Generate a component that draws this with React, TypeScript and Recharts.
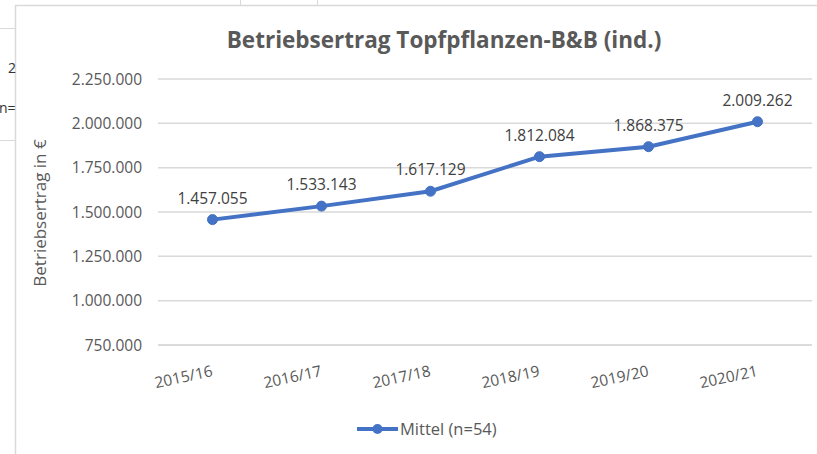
import React from 'react';
import { LineChart, Line, XAxis, YAxis, CartesianGrid, LabelList } from 'recharts';

const years = ['2015/16', '2016/17', '2017/18', '2018/19', '2019/20', '2020/21'];
const mittel = [1457055, 1533143, 1617129, 1812084, 1868375, 2009262];
const yTicks = [750000, 1000000, 1250000, 1500000, 1750000, 2000000, 2250000];
const seriesName = 'Mittel (n=54)';
const title = 'Betriebsertrag Topfpflanzen-B&B (ind.)';
const yLabel = 'Betriebsertrag in €';

const data = years.map((y, i) => ({ year: y, mittel: mittel[i] }));

const FONT = "'Open Sans', sans-serif";
const GRAY = '#595959';
const BLUE = '#4472C4';
const GRID = '#d9d9d9';

const fmt = (v: any) => String(v).replace(/\B(?=(\d{3})+(?!\d))/g, '.');

const XTick = (props: any) => {
  const { x, y, payload } = props;
  return (
    <g transform={`translate(${x + 1},${y + 31})`}>
      <text x={0} y={0} textAnchor="end" transform="rotate(-12)" fill={GRAY} fontSize={15.5} fontFamily={FONT}>
        {payload.value}
      </text>
    </g>
  );
};

export default function App() {
  return (
    <div style={{ position: 'absolute', left: 0, top: 0, width: 817, height: 454, background: '#fff', overflow: 'hidden' }}>
      <svg width={817} height={454} style={{ position: 'absolute', left: 0, top: 0 }}>
        <line x1={15.5} y1={5} x2={15.5} y2={454} stroke={GRID} strokeWidth={1.5} />
        <line x1={15} y1={5.5} x2={817} y2={5.5} stroke={GRID} strokeWidth={1.5} />
        <line x1={0} y1={28.5} x2={15} y2={28.5} stroke={GRID} />
        <line x1={0} y1={140.5} x2={15} y2={140.5} stroke={GRID} />
        <line x1={240.5} y1={0} x2={240.5} y2={5} stroke={GRID} />
        <line x1={317.5} y1={0} x2={317.5} y2={5} stroke={GRID} />
        <text x={8} y={73} fontSize={14} fill="#333" fontFamily={FONT}>2</text>
        <text x={-1} y={113} fontSize={14} fill="#333" fontFamily={FONT}>n=</text>
      </svg>
      <div style={{ position: 'absolute', left: 0, top: 0 }}>
        <LineChart width={817} height={454} data={data} margin={{ top: 79, right: 5, bottom: 79, left: 58 }}>
          <CartesianGrid vertical={false} stroke={GRID} strokeWidth={1.5} />
          <XAxis
            dataKey="year"
            axisLine={{ stroke: GRID, strokeWidth: 1.5 }}
            tickLine={false}
            tickSize={0}
            tickMargin={0}
            height={30}
            padding={{ left: 54.5, right: 54.5 }}
            tick={<XTick />}
            interval={0}
          />
          <YAxis
            domain={[750000, 2250000]}
            ticks={yTicks}
            axisLine={false}
            tickLine={false}
            tickSize={0}
            tickMargin={16}
            width={100}
            tickFormatter={fmt}
            tick={{ fill: GRAY, fontSize: 15.5, fontFamily: FONT }}
          />
          <Line
            type="linear"
            dataKey="mittel"
            stroke={BLUE}
            strokeWidth={4}
            dot={{ r: 5, fill: BLUE, stroke: BLUE, strokeWidth: 1 }}
            isAnimationActive={false}
          >
            <LabelList dataKey="mittel" position="top" offset={16} formatter={fmt} fill="#404040" fontSize={15.5} fontFamily={FONT} />
          </Line>
        </LineChart>
      </div>
      <svg width={817} height={454} style={{ position: 'absolute', left: 0, top: 0, pointerEvents: 'none' }}>
        <text x={444} y={48} textAnchor="middle" fontSize={22.5} fontWeight="bold" fill={GRAY} fontFamily={FONT}>{title}</text>
        <text x={0} y={0} transform="translate(46,213) rotate(-90)" textAnchor="middle" fontSize={17} fill={GRAY} fontFamily={FONT}>{yLabel}</text>
        <line x1={357} y1={429} x2={398} y2={429} stroke={BLUE} strokeWidth={4} />
        <circle cx={377.5} cy={429} r={5} fill={BLUE} />
        <text x={400} y={434.5} fontSize={16.5} fill={GRAY} fontFamily={FONT}>{seriesName}</text>
      </svg>
    </div>
  );
}
